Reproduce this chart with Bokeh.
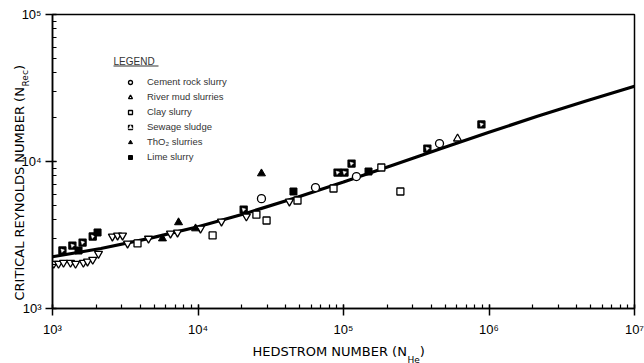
from bokeh.plotting import figure
from bokeh.models import (CustomJSTickFormatter, Label, Legend, LegendItem, BoxAnnotation)
from bokeh.embed import file_html
from bokeh.resources import INLINE

# ---- data ----
curve_he = [1e3, 2.15e3, 4.64e3, 1e4, 2.15e4, 4.64e4, 1e5, 2.15e5, 4.64e5, 1e6, 2.15e6, 4.64e6, 1e7]
curve_rec = [2250, 2560, 3000, 3600, 4450, 5650, 7250, 9400, 12200, 15800, 20300, 25800, 32500]

other_he = [1020, 1100, 1190, 1330, 1440, 1630, 1740, 1890, 2070, 2580, 2800, 3030, 3280, 4570, 6470, 7230, 10400, 14500, 21500, 42500]
other_rec = [2020, 2020, 2050, 2050, 2020, 2050, 2090, 2150, 2360, 3090, 3140, 3140, 2770, 2990, 3240, 3290, 3500, 3910, 4230, 5350]

cement_he = [27300, 64200, 122700, 457000]
cement_rec = [5590, 6650, 7900, 13250]

river_he = [608000]
river_rec = [14300]

clay_he = [3840, 12600, 25200, 29600, 48300, 85400, 182000, 246000]
clay_rec = [2770, 3140, 4350, 3970, 5430, 6550, 9100, 6250]

sewage_he = [1170, 1370, 1610, 1890, 20600, 91000, 101600, 113600, 377000, 887000]
sewage_rec = [2480, 2680, 2810, 3090, 4710, 8410, 8410, 9680, 12240, 17860]

tho2_he = [5700, 7350, 9620, 27300]
tho2_rec = [2990, 3850, 3500, 8280]

lime_he = [1510, 2040, 45300, 148600]
lime_rec = [2480, 3290, 6250, 8550]

legend_labels = ["Cement rock slurry", "River mud slurries", "Clay slurry",
                 "Sewage sludge", "ThO\u2082 slurries", "Lime slurry"]

# ---- figure ----
p = figure(width=644, height=363, x_axis_type="log", y_axis_type="log",
           x_range=(1e3, 1e7), y_range=(1e3, 1e5),
           output_backend="svg", toolbar_location=None,
           min_border_left=52, min_border_right=10, min_border_top=14, min_border_bottom=55)
p.grid.visible = False
p.outline_line_color = "black"
p.outline_line_width = 1.5

fmt = CustomJSTickFormatter(code="""
const sup = {"0":"\u2070","1":"\u00b9","2":"\u00b2","3":"\u00b3","4":"\u2074","5":"\u2075","6":"\u2076","7":"\u2077","8":"\u2078","9":"\u2079","-":"\u207b"};
const e = Math.round(Math.log10(tick));
return "10" + String(e).split("").map(c => sup[c]).join("");
""")
for ax in (p.xaxis[0], p.yaxis[0]):
    ax.formatter = fmt
    ax.axis_line_width = 1.5
    ax.major_tick_line_width = 1.5
    ax.minor_tick_line_width = 1.2
    ax.major_tick_out = 7
    ax.major_tick_in = 4
    ax.minor_tick_out = 0
    ax.minor_tick_in = 4
    ax.major_label_text_font = "Liberation Sans"
    ax.major_label_text_font_size = "13px"
    ax.major_label_text_color = "black"
p.xaxis.ticker.num_minor_ticks = 10
p.yaxis.ticker.num_minor_ticks = 10
p.xaxis.major_label_standoff = 6
p.yaxis.major_label_standoff = 4

# curve
p.line(curve_he, curve_rec, line_color="black", line_width=3.2)

ms = 7
p.scatter(other_he, other_rec, marker="inverted_triangle", size=ms + 1,
          fill_color="white", line_color="black", line_width=1.3)
r_cem = p.scatter(cement_he, cement_rec, marker="circle", size=ms + 1,
                  fill_color="white", line_color="black", line_width=1.3)
r_riv = p.scatter(river_he, river_rec, marker="triangle", size=ms + 1,
                  fill_color="white", line_color="black", line_width=1.3)
r_clay = p.scatter(clay_he, clay_rec, marker="square", size=ms,
                   fill_color="white", line_color="black", line_width=1.3)
r_sew = p.scatter(sewage_he, sewage_rec, marker="square", size=ms,
                  fill_color="black", line_color="black", line_width=1.3)
r_sew2 = p.scatter(sewage_he, sewage_rec, marker="triangle", size=3.5, angle=0.785,
                   fill_color="white", line_color="white", line_width=0.5)
r_tho = p.scatter(tho2_he, tho2_rec, marker="triangle", size=ms + 1,
                  fill_color="black", line_color="black", line_width=1)
r_lime = p.scatter(lime_he, lime_rec, marker="square", size=ms,
                   fill_color="black", line_color="black", line_width=1)

renders = [[r_cem], [r_riv], [r_clay], [r_sew, r_sew2], [r_tho], [r_lime]]
items = [LegendItem(label=lab, renderers=rr) for lab, rr in zip(legend_labels, renders)]
legend = Legend(items=items, location=(73, 146), glyph_width=10, glyph_height=10,
                label_height=10, spacing=4, padding=0, margin=0, label_standoff=12,
                label_text_font="Liberation Sans", label_text_font_size="9.5px",
                label_text_color="#333333",
                border_line_alpha=0, background_fill_alpha=0)
p.add_layout(legend, "center")

p.add_layout(Label(x=61, y=247, x_units="screen", y_units="screen", text="LEGEND",
                   text_font="Liberation Sans", text_font_size="10px",
                   text_color="#333333", text_baseline="alphabetic"))
p.add_layout(BoxAnnotation(left=61, right=106, top=243, bottom=242,
                           left_units="screen", right_units="screen",
                           top_units="screen", bottom_units="screen",
                           fill_color="#333333", fill_alpha=1, line_alpha=0))

# axis titles (main parts in the left/below panels, subscripts in right/above panels)
lab_font = "DejaVu Sans"
def side_label(text, x, y, size, angle, side):
    p.add_layout(Label(x=x, y=y, x_units="screen", y_units="screen", text=text,
                       angle=angle, text_font=lab_font, text_font_size=size,
                       text_baseline="alphabetic", text_align="left",
                       text_color="black"), side)

side_label("CRITICAL REYNOLDS NUMBER (N\u2002\u2002\u00a0)", 16, 8, "13px", 1.5708, "left")
side_label("HEDSTROM NUMBER (N\u2002\u2002)", 200, 3, "13px", 0, "below")
side_label("Rec", -609, 222, "9px", 1.5708, "right")
side_label("He", 355, -345, "9px", 0, "above")

open("out.html", "w").write(file_html(p, INLINE))
